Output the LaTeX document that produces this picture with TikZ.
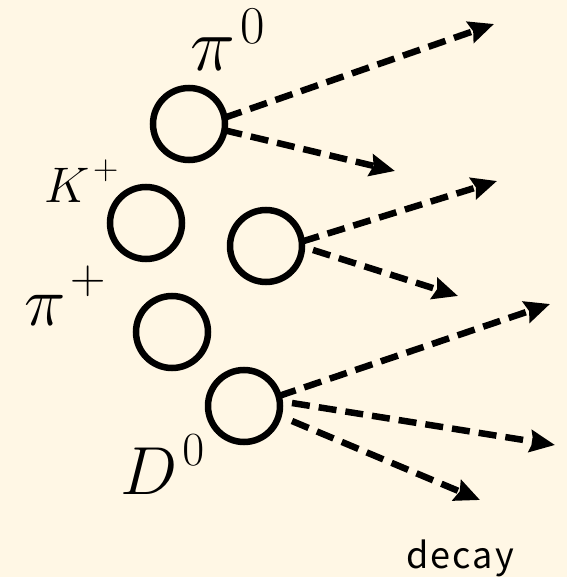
\documentclass[tikz,border=0pt]{standalone}
\usepackage{fix-cm}
\usepackage{fontspec}
\newfontfamily\decayfont[LetterSpace=6]{Noto Sans CJK JP}
\usetikzlibrary{arrows.meta}
\definecolor{bgcol}{HTML}{FFF7E5}
\newcommand{\upsup}[2]{^{\raisebox{#1}{$\scriptstyle\mkern2mu#2$}}}
\begin{document}
\begin{tikzpicture}[x=1pt,y=-1pt,
  particle/.style={circle,draw=black,line width=6.5pt,minimum size=72pt,inner sep=0pt,outer sep=0pt},
  decayarrow/.style={line width=6.5pt,dash pattern=on 18pt off 9pt,-{Stealth[length=25pt,width=22pt,inset=3pt]}},
  lbl/.style={inner sep=0pt,outer sep=0pt,anchor=base west}]
\fill[bgcol] (0,0) rectangle (567,577);
\useasboundingbox (0,0) rectangle (567,577);
% particles
\node[particle] (c1) at (189,124) {};
\node[particle] (c2) at (146,223) {};
\node[particle] (c3) at (266,246) {};
\node[particle] (c4) at (172,332) {};
\node[particle] (c5) at (244,406) {};
% labels
\node[lbl] (l1) at (190,71) {\fontsize{76}{76}\selectfont$\pi\upsup{0pt}{0}$};
\node[lbl] (l2) at (44,202) {\fontsize{50}{50}\selectfont$K\upsup{4pt}{+}$};
\node[lbl] (l3) at (24,325) {\fontsize{70}{70}\selectfont$\pi\upsup{6pt}{+}$};
\node[lbl] (l4) at (120,494) {\fontsize{68}{68}\selectfont$D\upsup{4pt}{0}$};
\node[lbl] (l5) at (406,568) {\decayfont\fontsize{36}{36}\selectfont decay};
% arrow ends
\coordinate (t1) at (494,24);
\coordinate (t2) at (395,171);
\coordinate (t3) at (497,181);
\coordinate (t4) at (458,296);
\coordinate (t5) at (550,304);
\coordinate (t6) at (555,445);
\coordinate (t7) at (480,500);
\coordinate (s4) at (313,250);
\coordinate (s6) at (292,403);
\coordinate (s7) at (292,421);
% arrows
\draw[decayarrow] (c1.10) -- (t1);
\draw[decayarrow] (c1.-10) -- (t2);
\draw[decayarrow] (c3.7) -- (t3);
\draw[decayarrow] (s4) -- (t4);
\draw[decayarrow] (c5.16) -- (t5);
\draw[decayarrow] (s6) -- (t6);
\draw[decayarrow] (s7) -- (t7);
\end{tikzpicture}
\end{document}
